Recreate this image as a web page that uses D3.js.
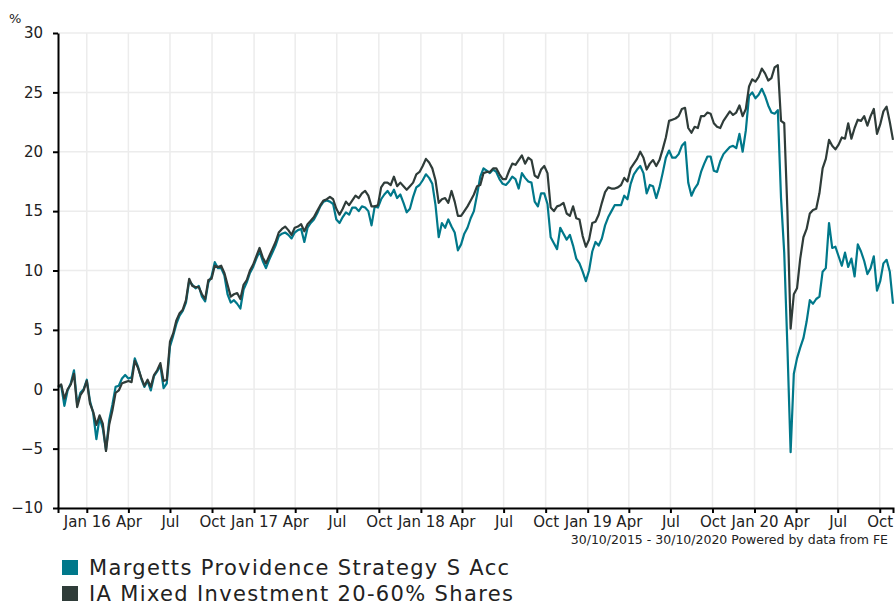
<!DOCTYPE html>
<html>
<head>
<meta charset="utf-8">
<script src="https://cdn.jsdelivr.net/npm/d3@7"></script>
<style>
  body { margin: 0; background: #fff; }
  svg { display: block; font-family: Verdana, "DejaVu Sans", sans-serif; }
  .grid line { stroke: #ececec; stroke-width: 1.5; }
  .axis path, .axis line { stroke: #000; stroke-width: 2; }
  .axis text { fill: #222; font-size: 15px; font-family: Verdana, "DejaVu Sans", sans-serif; }
</style>
</head>
<body>
<div id="chart"></div>
<script>
// weekly closes, % growth from 30/10/2015
var startDate = "2015-10-30";

var seriesNames = ["Margetts Providence Strategy S Acc", "IA Mixed Investment 20-60% Shares"];
var seriesColors = ["#00788a", "#2f3c39"];

var margetts = [
  0.2, 0.3, -1.4, -0.1, 0.5, 1.6, -1.3, -0.3, 0.0, 0.8,
  -1.0, -2.0, -4.2, -2.4, -3.3, -5.1, -2.6, -1.3, 0.2, 0.3,
  0.9, 1.2, 0.9, 1.0, 2.6, 1.9, 0.9, 0.2, 0.7, -0.1,
  1.1, 1.5, 2.0, 0.1, 0.5, 3.6, 4.5, 5.5, 6.2, 6.6,
  7.3, 9.1, 8.8, 8.5, 8.7, 7.8, 7.4, 9.0, 9.5, 10.7,
  10.2, 10.2, 9.6, 8.0, 7.3, 7.5, 7.2, 6.8, 8.4, 9.0,
  9.8, 10.3, 11.0, 11.6, 10.8, 10.2,
  10.9, 11.5, 12.1, 12.9, 13.1, 13.2, 13.0, 12.7, 13.2, 13.4,
  13.5, 12.4, 13.6, 14.0, 14.3, 14.8, 15.4, 15.8, 15.9, 15.8,
  15.6, 14.3, 14.0, 14.5, 14.9, 14.7, 15.3, 15.3, 15.0, 15.4,
  15.3, 15.0, 13.8, 15.4, 15.3, 16.0, 16.4, 16.7, 16.3, 16.8,
  16.1, 16.4, 15.7, 14.9, 15.2, 16.2, 17.0, 17.2, 17.6, 18.1,
  17.8, 17.3, 15.5, 12.8, 14.0, 13.6, 14.3, 13.7, 13.2, 11.7,
  12.2, 13.1, 13.6, 14.4, 15.0, 16.4,
  17.9, 18.6, 18.4, 18.2, 18.5, 18.3, 17.7, 17.3, 17.2, 17.5,
  17.9, 17.7, 16.9, 18.2, 17.8, 17.5, 17.4, 15.8, 15.4, 16.5,
  16.5, 15.6, 12.8, 12.3, 11.8, 13.6, 13.1, 12.6, 13.0, 12.1,
  11.0, 10.6, 9.9, 9.1, 10.0, 11.6, 12.4, 12.1, 12.7, 13.8,
  14.5, 15.0, 15.5, 15.5, 15.5, 16.3, 16.0, 17.3, 18.1, 18.5,
  18.8, 18.2, 16.5, 17.2, 17.1, 16.1, 17.0, 18.2, 19.5, 20.1,
  19.5, 19.5, 19.8, 20.5, 20.8, 17.4,
  16.3, 16.9, 17.3, 18.3, 19.0, 19.6, 19.6, 18.4, 18.3, 19.2,
  19.8, 20.1, 20.4, 20.5, 20.3, 21.5, 20.0, 21.8, 24.7, 25.0,
  24.5, 24.8, 25.3, 24.7, 23.9, 23.3, 23.2, 23.5, 16.1, 11.5,
  3.5, -5.3, 1.3, 2.6, 3.5, 4.3, 5.7, 7.5, 7.2, 7.6,
  7.8, 9.9, 10.2, 14.0, 11.9, 12.0, 11.2, 10.4, 11.5, 10.3,
  11.0, 9.5, 12.2, 11.6, 10.8, 9.7, 10.2, 11.2, 8.3, 9.1,
  10.6, 10.9, 9.9, 7.2
];

var sector = [
  0.2, 0.4, -0.8, 0.0, 0.4, 1.3, -1.5, -0.5, -0.1, 0.7,
  -1.2, -1.9, -3.0, -2.2, -2.9, -5.2, -3.0, -1.8, -0.3, -0.1,
  0.5, 0.6, 0.7, 0.6, 2.4, 1.8, 1.0, 0.3, 0.8, 0.2,
  1.2, 1.6, 2.2, 0.7, 0.8, 4.0, 4.7, 5.8, 6.4, 6.7,
  7.5, 9.3, 8.7, 8.6, 8.6, 8.0, 7.6, 9.2, 9.3, 10.4,
  10.3, 10.4, 9.8, 8.8, 7.8, 8.0, 8.1, 7.6, 8.8, 9.2,
  10.0, 10.5, 11.2, 11.9, 11.1, 10.6,
  11.2, 11.8, 12.4, 13.2, 13.5, 13.7, 13.4, 13.0, 13.6, 13.7,
  13.9, 13.3, 13.9, 14.2, 14.5, 15.0, 15.5, 15.9, 16.0, 16.2,
  16.0, 15.2, 14.7, 15.2, 15.8, 15.5, 15.9, 16.3, 16.1, 16.5,
  16.7, 16.3, 15.4, 15.4, 15.5, 17.0, 17.4, 17.4, 17.2, 17.9,
  17.1, 17.4, 17.1, 16.8, 17.1, 17.4, 18.1, 18.3, 18.8, 19.4,
  19.1, 18.6, 17.6, 15.7, 16.0, 16.1, 15.7, 16.7, 15.8, 14.6,
  14.6, 15.0, 15.4, 15.9, 16.4, 17.1,
  17.2, 18.2, 18.3, 18.3, 18.6, 18.6, 18.1, 17.7, 17.7, 18.4,
  19.0, 18.9, 19.3, 19.7, 19.0, 19.5, 19.3, 18.0, 17.8, 18.5,
  18.8, 18.2, 15.3, 15.0, 15.4, 15.5, 15.7, 14.8, 14.6, 15.4,
  14.4, 14.3, 12.9, 12.0, 12.6, 14.0, 14.1, 14.7, 15.7, 16.6,
  17.0, 16.9, 16.9, 17.0, 17.2, 17.8, 17.5, 18.6, 19.0, 19.4,
  20.0, 19.5, 18.5, 19.0, 19.3, 18.8, 19.3, 20.2, 21.2, 22.6,
  22.7, 22.8, 23.0, 23.6, 23.7, 22.0,
  21.6, 22.1, 22.0, 23.0, 23.0, 23.3, 23.2, 22.4, 22.1, 22.0,
  22.6, 23.0, 23.4, 23.1, 23.3, 23.9, 23.0, 23.6, 25.5, 26.1,
  25.9, 26.3, 27.0, 26.6, 26.0, 26.2, 27.1, 27.3, 22.6, 22.4,
  15.0, 5.1, 8.0, 8.5, 11.0, 12.8, 13.5, 14.8, 15.1, 15.2,
  16.5, 18.6, 19.4, 21.0, 20.5, 20.2, 20.6, 21.2, 21.1, 22.4,
  21.1, 22.0, 22.7, 22.6, 23.0, 22.2, 23.0, 23.6, 21.5, 22.3,
  23.4, 23.8, 22.5, 21.0
];

var yTicks = [-10, -5, 0, 5, 10, 15, 20, 25, 30];
var footerText = "30/10/2015 - 30/10/2020 Powered by data from FE";

var W = 896, H = 606;
var plotLeft = 58, plotTop = 33, plotRight = 893, plotBottom = 508;

var parse = d3.timeParse("%Y-%m-%d");
var start = parse(startDate);
var dates = margetts.map(function (d, i) { return d3.timeDay.offset(start, i * 7); });

var x = d3.scaleTime()
  .domain([start, parse("2020-10-30")])
  .range([plotLeft, plotRight]);
var y = d3.scaleLinear()
  .domain([-10, 30])
  .range([plotBottom, plotTop]);

var xTicks = d3.timeMonth.every(3).range(parse("2016-01-01"), parse("2020-10-31"));
var fmt = function (d) {
  return d.getMonth() === 0 ? d3.timeFormat("%b %y")(d) : d3.timeFormat("%b")(d);
};

var svg = d3.select("#chart").append("svg")
  .attr("width", W)
  .attr("height", H);

// grid
var grid = svg.append("g").attr("class", "grid");
grid.selectAll(".h").data(yTicks).enter().append("line")
  .attr("x1", plotLeft).attr("x2", plotRight)
  .attr("y1", function (d) { return y(d); })
  .attr("y2", function (d) { return y(d); });
grid.selectAll(".v").data(xTicks).enter().append("line")
  .attr("x1", function (d) { return x(d); })
  .attr("x2", function (d) { return x(d); })
  .attr("y1", plotTop).attr("y2", plotBottom);

// lines
var line = d3.line()
  .x(function (d, i) { return x(dates[i]); })
  .y(function (d) { return y(d); });

[margetts, sector].forEach(function (s, k) {
  svg.append("path")
    .datum(s)
    .attr("d", line)
    .attr("fill", "none")
    .attr("stroke", seriesColors[k])
    .attr("stroke-width", 2.2)
    .attr("stroke-linejoin", "round");
});

// axes
svg.append("g")
  .attr("class", "axis")
  .attr("transform", "translate(0," + plotBottom + ")")
  .call(d3.axisBottom(x).tickValues(xTicks).tickFormat(fmt).tickSize(5).tickPadding(3));

svg.append("g")
  .attr("class", "axis")
  .attr("transform", "translate(" + plotLeft + ",0)")
  .call(d3.axisLeft(y).tickValues(yTicks).tickSize(5).tickSizeOuter(0).tickPadding(10));

svg.append("text")
  .attr("x", 9).attr("y", 23)
  .attr("font-size", 13)
  .attr("fill", "#222")
  .text("%");

svg.append("text")
  .attr("x", 888).attr("y", 544)
  .attr("text-anchor", "end")
  .attr("font-size", 12.5)
  .attr("fill", "#222")
  .text(footerText);

// legend
var legend = svg.append("g").selectAll("g")
  .data(seriesNames)
  .enter().append("g")
  .attr("transform", function (d, i) { return "translate(62," + (560 + i * 26) + ")"; });
legend.append("rect")
  .attr("width", 16).attr("height", 15)
  .attr("fill", function (d, i) { return seriesColors[i]; });
legend.append("text")
  .attr("x", 27).attr("y", 15)
  .attr("font-size", 21)
  .attr("letter-spacing", 1.35)
  .attr("fill", "#222")
  .text(function (d) { return d; });
</script>
</body>
</html>
